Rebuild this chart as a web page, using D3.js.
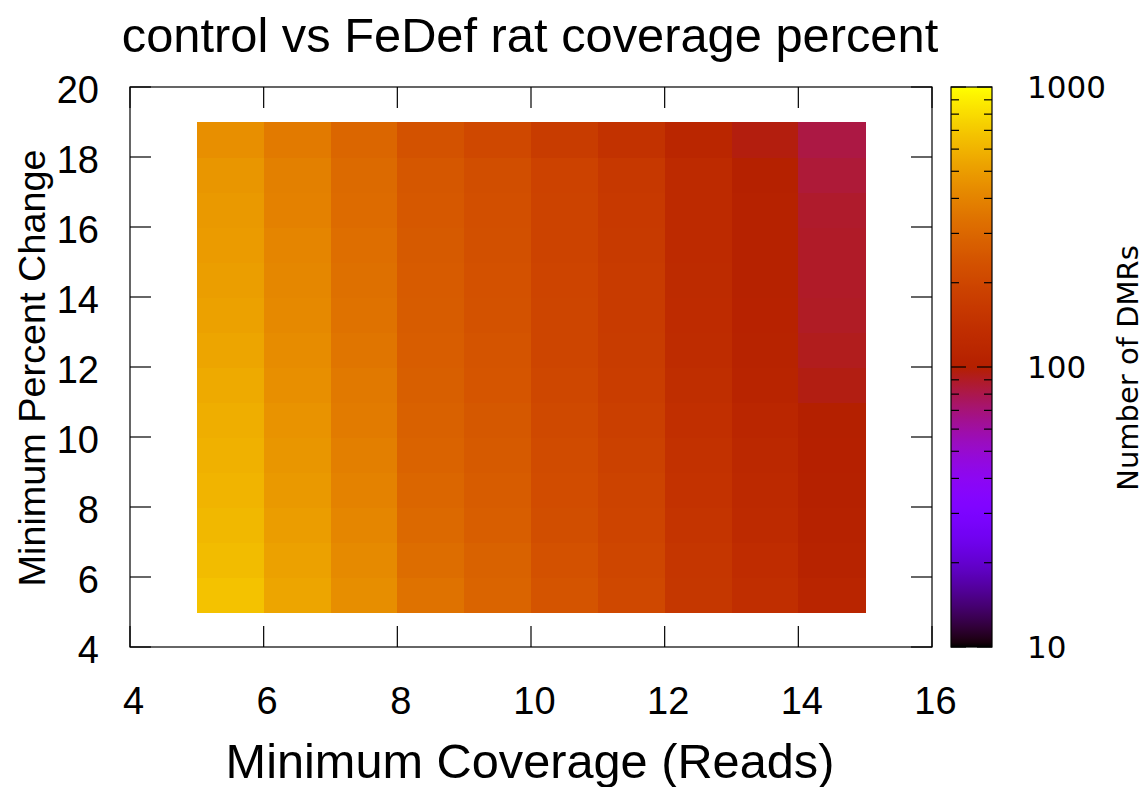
<!DOCTYPE html>
<html>
<head>
<meta charset="utf-8">
<script src="https://cdn.jsdelivr.net/npm/d3@7"></script>
<style>
  body { margin: 0; background: #fff; }
  svg { display: block; }
</style>
</head>
<body>
<svg id="chart" width="1147" height="787"></svg>
<script>
// Minimum coverage (reads) at the left edge of each cell column
const coverage = [5, 6, 7, 8, 9, 10, 11, 12, 13, 14];
// Minimum percent change at the bottom edge of each cell row
const percentChange = [5, 6, 7, 8, 9, 10, 11, 12, 13, 14, 15, 16, 17, 18];

// Number of DMRs per coverage column, listed from percent change 5 up to 18
const dmrsCov5  = [670, 640, 620, 605, 590, 575, 559, 537, 520, 505, 494, 485, 474, 446];
const dmrsCov6  = [537, 520, 504, 486, 474, 462, 446, 435, 423, 414, 407, 392, 388, 367];
const dmrsCov7  = [443, 427, 411, 397, 386, 370, 363, 349, 339, 332, 325, 315, 311, 298];
const dmrsCov8  = [340, 322, 308, 297, 288, 281, 275, 270, 266, 262, 259, 253, 250, 235];
const dmrsCov9  = [292, 283, 272, 265, 258, 252, 245, 240, 236, 232, 229, 226, 222, 205];
const dmrsCov10 = [240, 232, 223, 218, 213, 208, 203, 198, 196, 194, 192, 190, 188, 171];
const dmrsCov11 = [205, 200, 195, 190, 185, 180, 175, 172, 170, 168, 166, 164, 162, 145];
const dmrsCov12 = [158, 155, 150, 146, 142, 138, 134, 130, 128, 127, 126, 125, 124, 115];
const dmrsCov13 = [136, 131, 126, 122, 119, 116, 110, 107, 106, 105, 104, 104, 103, 96];
const dmrsCov14 = [113, 108, 104, 102, 101, 100, 95, 92, 90, 89, 89, 88, 85, 82];
const dmrColumns = [dmrsCov5, dmrsCov6, dmrsCov7, dmrsCov8, dmrsCov9,
                    dmrsCov10, dmrsCov11, dmrsCov12, dmrsCov13, dmrsCov14];

const xTicks = [4, 6, 8, 10, 12, 14, 16];
const yTicks = [4, 6, 8, 10, 12, 14, 16, 18, 20];
const cbMajor = [10, 100, 1000];
const cbMinor = [20, 30, 40, 50, 60, 70, 80, 90, 200, 300, 400, 500, 600, 700, 800, 900];

// Flatten into cells
const cells = [];
coverage.forEach((cov, i) => {
  percentChange.forEach((pc, j) => {
    cells.push({ cov, pc, value: dmrColumns[i][j] });
  });
});

// sqrt / cube / sine colour ramp (black - purple - red - orange - yellow)
function ramp(t) {
  t = Math.max(0, Math.min(1, t));
  const r = Math.sqrt(t);
  const g = t * t * t;
  const b = Math.max(0, Math.sin(2 * Math.PI * t));
  return d3.rgb(Math.round(r * 255), Math.round(g * 255), Math.round(b * 255)).formatHex();
}
const color = d3.scaleSequentialLog(ramp).domain([10, 1000]);

const svg = d3.select("#chart");
const plot = { left: 130, right: 932, top: 87, bottom: 647 };
const x = d3.scaleLinear().domain([4, 16]).range([plot.left, plot.right]);
const y = d3.scaleLinear().domain([4, 20]).range([plot.bottom, plot.top]);

const sansFont = "'Liberation Sans', Arial, Helvetica, sans-serif";
const cbFont = "'DejaVu Sans', sans-serif";

// Heatmap cells
svg.append("g").selectAll("rect")
  .data(cells)
  .join("rect")
  .attr("x", d => x(d.cov))
  .attr("y", d => y(d.pc + 1))
  .attr("width", d => x(d.cov + 1) - x(d.cov) + 0.5)
  .attr("height", d => y(d.pc) - y(d.pc + 1) + 0.5)
  .attr("fill", d => color(d.value))
  .attr("shape-rendering", "crispEdges");

// Axes with inward ticks on all four sides
const tickLen = 21;
const axisG = svg.append("g").attr("stroke", "#000").attr("stroke-width", 1.2).attr("fill", "none");
xTicks.forEach(v => {
  axisG.append("line").attr("x1", x(v)).attr("x2", x(v)).attr("y1", plot.bottom).attr("y2", plot.bottom - tickLen);
  axisG.append("line").attr("x1", x(v)).attr("x2", x(v)).attr("y1", plot.top).attr("y2", plot.top + tickLen);
});
yTicks.forEach(v => {
  axisG.append("line").attr("y1", y(v)).attr("y2", y(v)).attr("x1", plot.left).attr("x2", plot.left + tickLen);
  axisG.append("line").attr("y1", y(v)).attr("y2", y(v)).attr("x1", plot.right).attr("x2", plot.right - tickLen);
});
axisG.append("rect")
  .attr("x", plot.left).attr("y", plot.top)
  .attr("width", plot.right - plot.left).attr("height", plot.bottom - plot.top);

// Tick labels
const xAxis = d3.axisBottom(x).tickValues(xTicks).tickSize(0).tickPadding(0).tickFormat(d3.format("d"));
const xg = svg.append("g").attr("transform", `translate(3,${plot.bottom + 67})`).call(xAxis);
xg.select(".domain").remove();
xg.selectAll("text").attr("font-family", sansFont).attr("font-size", 38).attr("fill", "#000").attr("dy", 0);

const yAxis = d3.axisLeft(y).tickValues(yTicks).tickSize(0).tickPadding(0).tickFormat(d3.format("d"));
const yg = svg.append("g").attr("transform", `translate(${plot.left - 31},2)`).call(yAxis);
yg.select(".domain").remove();
yg.selectAll("text").attr("font-family", sansFont).attr("font-size", 38).attr("fill", "#000").attr("dy", "0.35em");

// Title and axis labels
svg.append("text")
  .attr("x", 530).attr("y", 52)
  .attr("text-anchor", "middle")
  .attr("font-family", sansFont).attr("font-size", 48.8)
  .text("control vs FeDef rat coverage percent");

svg.append("text")
  .attr("x", 530).attr("y", 778)
  .attr("text-anchor", "middle")
  .attr("font-family", sansFont).attr("font-size", 48.7)
  .text("Minimum Coverage (Reads)");

svg.append("text")
  .attr("transform", `translate(45,368) rotate(-90)`)
  .attr("text-anchor", "middle")
  .attr("font-family", sansFont).attr("font-size", 37.8)
  .text("Minimum Percent Change");

// Colour bar
const cb = { left: 951, right: 992, top: 87, bottom: 647 };
const cbScale = d3.scaleLog().domain([10, 1000]).range([cb.bottom, cb.top]);

const defs = svg.append("defs");
const grad = defs.append("linearGradient")
  .attr("id", "cbGrad").attr("x1", 0).attr("y1", 1).attr("x2", 0).attr("y2", 0);
d3.range(0, 1.0001, 1 / 120).forEach(t => {
  grad.append("stop").attr("offset", t).attr("stop-color", ramp(t));
});
svg.append("rect")
  .attr("x", cb.left).attr("y", cb.top)
  .attr("width", cb.right - cb.left).attr("height", cb.bottom - cb.top)
  .attr("fill", "url(#cbGrad)");

const cbTicks = svg.append("g").attr("stroke", "#000").attr("stroke-width", 1.2);
cbMinor.forEach(v => {
  cbTicks.append("line").attr("x1", cb.left).attr("x2", cb.left + 8).attr("y1", cbScale(v)).attr("y2", cbScale(v));
  cbTicks.append("line").attr("x1", cb.right).attr("x2", cb.right - 8).attr("y1", cbScale(v)).attr("y2", cbScale(v));
});
cbMajor.forEach(v => {
  cbTicks.append("line").attr("x1", cb.left).attr("x2", cb.left + 15).attr("y1", cbScale(v)).attr("y2", cbScale(v));
  cbTicks.append("line").attr("x1", cb.right).attr("x2", cb.right - 15).attr("y1", cbScale(v)).attr("y2", cbScale(v));
});
svg.append("rect")
  .attr("x", cb.left).attr("y", cb.top)
  .attr("width", cb.right - cb.left).attr("height", cb.bottom - cb.top)
  .attr("fill", "none").attr("stroke", "#000").attr("stroke-width", 1.2);

const cbAxis = d3.axisRight(cbScale).tickValues(cbMajor).tickSize(0).tickPadding(0).tickFormat(d3.format("d"));
const cbg = svg.append("g").attr("transform", `translate(1027,0)`).call(cbAxis);
cbg.select(".domain").remove();
cbg.selectAll("text").attr("font-family", cbFont).attr("font-size", 31).attr("fill", "#000").attr("dy", "0.35em");

svg.append("text")
  .attr("transform", `translate(1138,368) rotate(-90)`)
  .attr("text-anchor", "middle")
  .attr("font-family", cbFont).attr("font-size", 29)
  .text("Number of DMRs");
</script>
</body>
</html>
